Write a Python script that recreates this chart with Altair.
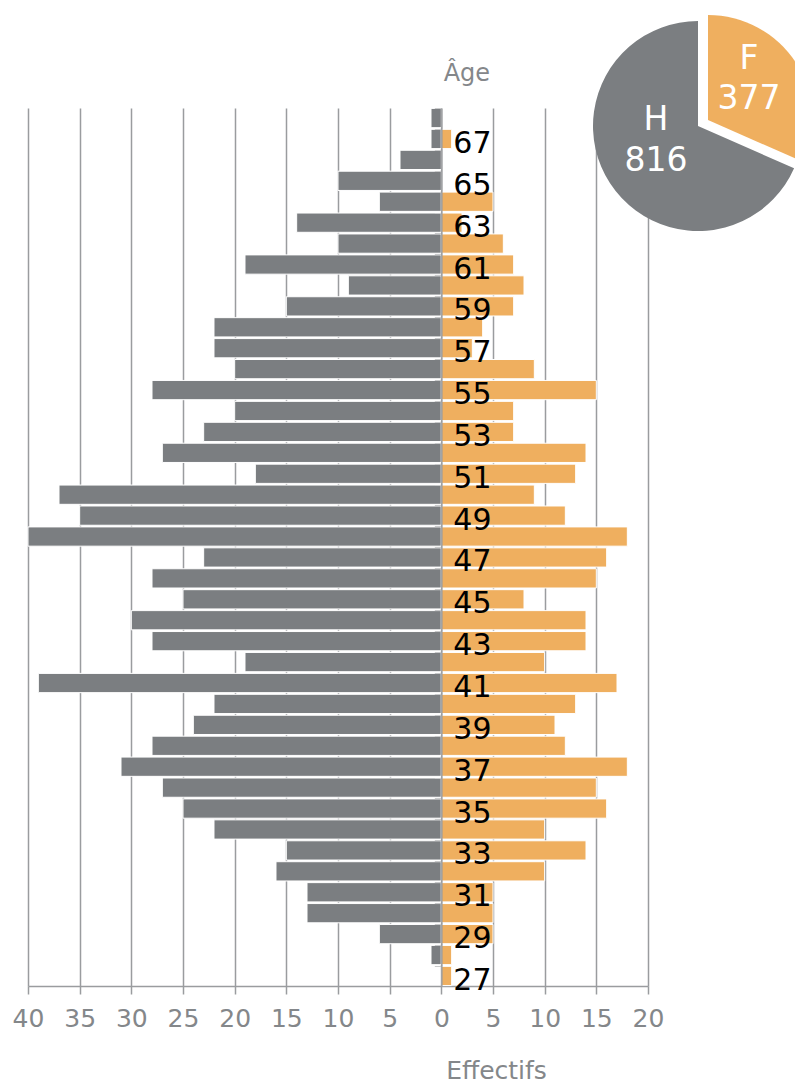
import altair as alt
import pandas as pd

# Data
ages = list(range(27, 69))
hommes = [0, 1, 6, 13, 13, 16, 15, 22, 25, 27, 31, 28, 24, 22, 39, 19, 28, 30, 25, 28, 23,
          40, 35, 37, 18, 27, 23, 20, 28, 20, 22, 22, 15, 9, 19, 10, 14, 6, 10, 4, 1, 1]
femmes = [1, 1, 5, 5, 5, 10, 14, 10, 16, 15, 18, 12, 11, 13, 17, 10, 14, 14, 8, 15, 16,
          18, 12, 9, 13, 14, 7, 7, 15, 9, 3, 4, 7, 8, 7, 6, 2, 5, 0, 0, 1, 0]
x_ticks = list(range(-40, 25, 5))
pie_sexe = ["F", "H"]
pie_n = [377, 816]
pie_order = [0, 1]

GREY = "#7b7e81"
ORANGE = "#efaf5f"
GRID = "#9a9c9f"
LABEL = "#84878a"
FONT = "DejaVu Sans"

W, H = 620, 878
zero_offset = W * 40 / 60

df = pd.DataFrame({"age": ages, "h": hommes, "f": femmes})
pie_df = pd.DataFrame({"sexe": pie_sexe, "n": pie_n, "ord": pie_order})

xscale = alt.Scale(domain=[-40, 20], nice=False, zero=False)
yscale = alt.Scale(paddingInner=0.08, paddingOuter=0.02)

xaxis = alt.Axis(
    values=x_ticks, labelExpr="abs(datum.value)", grid=True, gridColor=GRID, gridWidth=1.5,
    domainColor=GRID, domainWidth=1.5, tickColor=GRID, tickWidth=1.5, tickSize=8,
    labelFontSize=25, labelColor=LABEL, labelFont=FONT, labelPadding=12,
    labelFlush=False, labelOverlap=False,
    title="Effectifs", titleFontSize=25, titleFontWeight="normal", titleColor=LABEL,
    titleFont=FONT, titleX=468, titleY=84, titleAlign="center", titleBaseline="middle",
)
yaxis = alt.Axis(
    orient="left", offset=-zero_offset, labels=False, ticks=True, tickSize=7,
    tickColor="#c9cacb", tickWidth=1, bandPosition=0, domainColor=GRID, domainWidth=1.5,
    grid=False, zindex=1,
    title="Âge", titleAngle=0, titleX=25, titleY=-35, titleAlign="center",
    titleBaseline="middle", titleFontSize=24, titleColor=LABEL, titleFontWeight="normal",
    titleFont=FONT,
)

base = alt.Chart(df)

bars_h = base.transform_filter("datum.h > 0").transform_calculate(neg="-datum.h").mark_bar(
    color=GREY, stroke="white", strokeWidth=1
).encode(
    x=alt.X("neg:Q", scale=xscale, axis=xaxis),
    y=alt.Y("age:O", sort="descending", scale=yscale, axis=yaxis),
)

bars_f = base.transform_filter("datum.f > 0").mark_bar(
    color=ORANGE, stroke="white", strokeWidth=1
).encode(
    x=alt.X("f:Q"),
    y=alt.Y("age:O", sort="descending"),
)

age_labels = base.transform_filter("datum.age % 2 == 1").mark_text(
    align="left", baseline="middle", dx=12, dy=5, fontSize=30, font=FONT, color="black"
).encode(
    x=alt.datum(0),
    y=alt.Y("age:O", sort="descending"),
    text=alt.Text("age:O"),
)

pie_base = alt.Chart(pie_df).transform_joinaggregate(
    total="sum(n)"
).transform_window(
    cum="sum(n)", sort=[alt.SortField("ord")]
).transform_calculate(
    a0="(datum.cum - datum.n) / datum.total * 2 * PI",
    a1="datum.cum / datum.total * 2 * PI",
    lab="datum.sexe + '\\n' + datum.n",
)

arc_h = pie_base.transform_filter("datum.sexe == 'H'").mark_arc(
    radius=105, color=GREY
).encode(
    theta=alt.Theta("a0:Q", scale=None), theta2="a1:Q",
    x=alt.value(698 - 28), y=alt.value(126 - 108),
)
arc_f = pie_base.transform_filter("datum.sexe == 'F'").mark_arc(
    radius=105, color=ORANGE
).encode(
    theta=alt.Theta("a0:Q", scale=None), theta2="a1:Q",
    x=alt.value(708 - 28), y=alt.value(120 - 108),
)
txt_h = pie_base.transform_filter("datum.sexe == 'H'").mark_text(
    lineBreak="\n", lineHeight=41, fontSize=33, font=FONT, color="white",
    align="center", baseline="middle"
).encode(text="lab:N", x=alt.value(656 - 28), y=alt.value(120 - 108))
txt_f = pie_base.transform_filter("datum.sexe == 'F'").mark_text(
    lineBreak="\n", lineHeight=40, fontSize=33, font=FONT, color="white",
    align="center", baseline="middle"
).encode(text="lab:N", x=alt.value(749 - 28), y=alt.value(59 - 108))

chart = alt.layer(bars_h, bars_f, age_labels, arc_h, arc_f, txt_h, txt_f).properties(
    width=W, height=H,
    autosize=alt.AutoSizeParams(type="none"),
    padding={"left": 20, "top": 100, "right": 147, "bottom": 102},
    background="white",
).configure_view(strokeWidth=0)

chart.save("out.html", embed_options={"renderer": "svg", "actions": False})
